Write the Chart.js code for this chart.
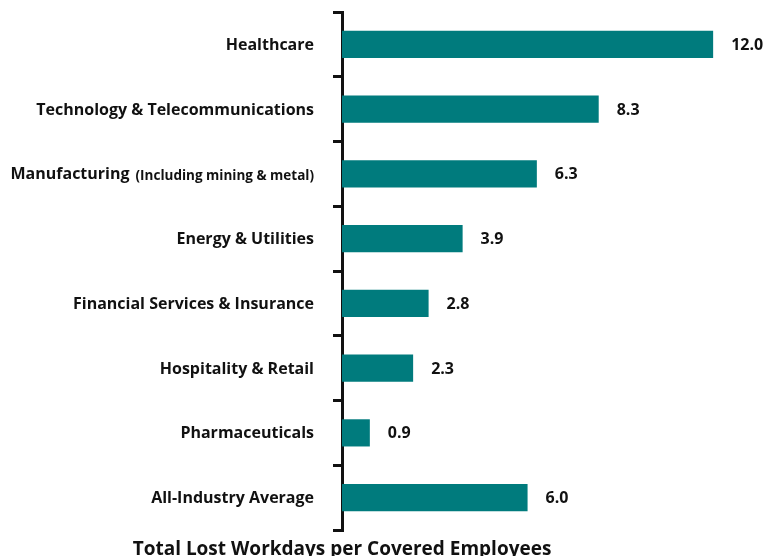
<!DOCTYPE html>
<html>
<head>
<meta charset="utf-8">
<script src="https://cdn.jsdelivr.net/npm/chart.js@4/dist/chart.umd.min.js"></script>
<style>
  html, body { margin: 0; padding: 0; background: #ffffff; }
  #wrap { width: 775px; height: 556px; position: relative; }
</style>
</head>
<body>
<div id="wrap"><canvas id="chart"></canvas></div>
<script>
// Industries, top to bottom
const industries = [
  'Healthcare',
  'Technology & Telecommunications',
  'Manufacturing',
  'Energy & Utilities',
  'Financial Services & Insurance',
  'Hospitality & Retail',
  'Pharmaceuticals',
  'All-Industry Average'
];
// Smaller qualifier printed after an industry name
const industryNotes = ['', '', '(Including mining & metal)', '', '', '', '', ''];
// Total lost workdays per covered employee
const lostWorkdays = [12.0, 8.3, 6.3, 3.9, 2.8, 2.3, 0.9, 6.0];
const axisTitle = 'Total Lost Workdays per Covered Employees';

const FONT = '"Open Sans", "Liberation Sans", sans-serif';
const TEAL = '#007b7d';
const INK = '#111111';

// Draws category names, value labels and the axis title
const labelPlugin = {
  id: 'industryLabels',
  afterDraw(chart) {
    const ctx = chart.ctx;
    const y = chart.scales.y;
    const meta = chart.getDatasetMeta(0);
    ctx.save();
    ctx.fillStyle = INK;
    ctx.textBaseline = 'middle';

    industries.forEach((name, i) => {
      const py = y.getPixelForValue(i) + 1;
      const right = y.right - 28;
      ctx.textAlign = 'right';
      let endX = right;
      if (industryNotes[i]) {
        ctx.font = '700 13.5px ' + FONT;
        ctx.fillText(industryNotes[i], endX, py + 1);
        endX -= ctx.measureText(industryNotes[i]).width + 6;
      }
      ctx.font = '700 16px ' + FONT;
      ctx.fillText(name, endX, py);

      // value label beside the bar end
      const bar = meta.data[i];
      ctx.textAlign = 'left';
      ctx.font = '700 16px ' + FONT;
      ctx.fillText(lostWorkdays[i].toFixed(1), bar.x + 18, py);
    });

    ctx.textAlign = 'center';
    ctx.textBaseline = 'alphabetic';
    ctx.font = '700 19px ' + FONT;
    ctx.fillText(axisTitle, y.right, chart.height - 1);
    ctx.restore();
  }
};

new Chart(document.getElementById('chart'), {
  type: 'bar',
  data: {
    labels: industries,
    datasets: [{
      data: lostWorkdays,
      backgroundColor: TEAL,
      borderWidth: 0,
      barPercentage: 0.42,
      categoryPercentage: 1.0
    }]
  },
  options: {
    indexAxis: 'y',
    responsive: true,
    maintainAspectRatio: false,
    animation: false,
    layout: { padding: { top: 12, bottom: 26, left: 0, right: 0 } },
    plugins: {
      legend: { display: false },
      tooltip: { enabled: false },
      title: { display: false }
    },
    scales: {
      x: {
        display: false,
        min: 0,
        max: 14
      },
      y: {
        afterFit(scale) { scale.width = 342; },
        ticks: { display: false },
        grid: {
          display: true,
          offset: true,
          drawOnChartArea: false,
          drawTicks: true,
          tickLength: 9,
          color: INK,
          lineWidth: 3
        },
        border: { display: true, color: INK, width: 3 }
      }
    }
  },
  plugins: [labelPlugin]
});
</script>
</body>
</html>
